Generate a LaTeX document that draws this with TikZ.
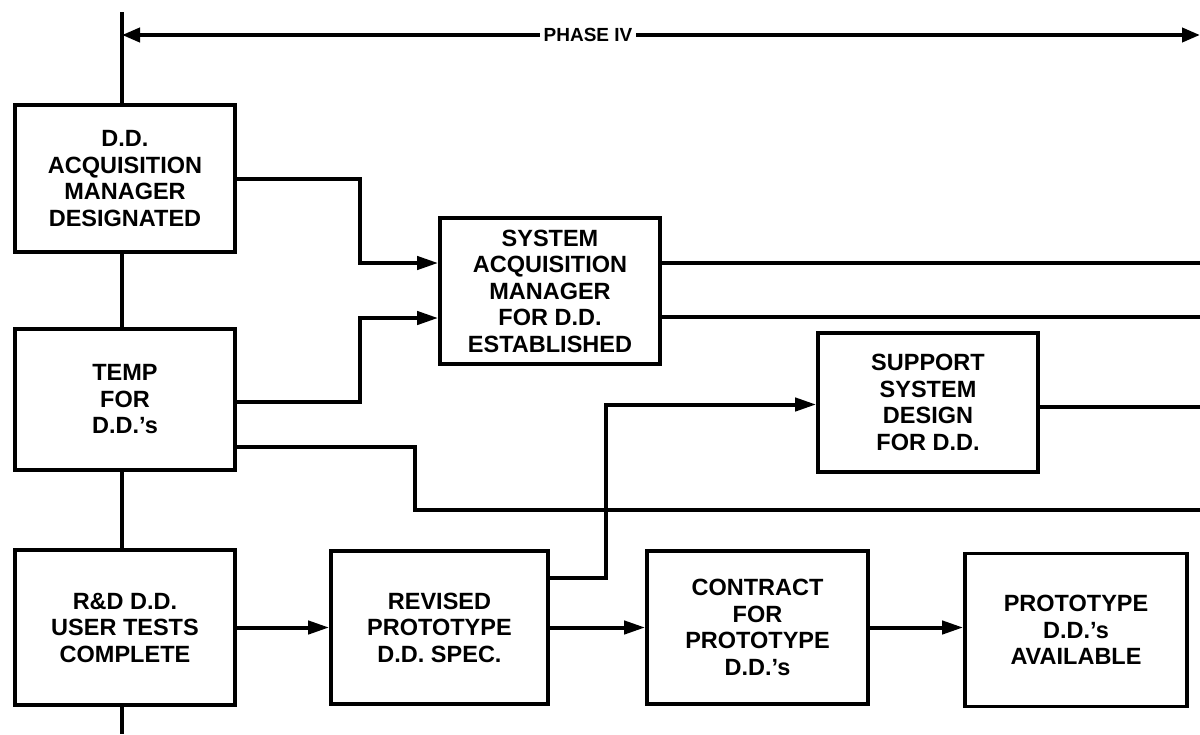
\documentclass[tikz,border=0pt]{standalone}
\usepackage{fontspec}
\setmainfont{Liberation Sans}
\usetikzlibrary{arrows.meta,calc}
\begin{document}
\begin{tikzpicture}[x=1pt,y=-1pt,
  box/.style={draw,line width=3.6pt,align=center,inner sep=0pt,
    font=\fontsize{23.5}{26.5}\selectfont\bfseries},
  conn/.style={line width=4pt},
  arr/.style={conn,-{Triangle[length=21pt,width=13pt]}},
  phase/.style={conn,{Triangle[length=18pt,width=14pt]}-{Triangle[length=18pt,width=14pt]}}]
\useasboundingbox (0,0) rectangle (1200,734);
% boxes
\node[box,minimum width=220pt,minimum height=147pt] (b1) at (125,178.5) {D.D.\\ACQUISITION\\MANAGER\\DESIGNATED};
\node[box,minimum width=220pt,minimum height=141pt] (b2) at (125,399.5) {TEMP\\FOR\\D.D.’s};
\node[box,minimum width=220pt,minimum height=155pt] (b3) at (125,627.5) {R\&D D.D.\\USER TESTS\\COMPLETE};
\node[box,minimum width=220pt,minimum height=146pt] (sam) at (550,291) {SYSTEM\\ACQUISITION\\MANAGER\\FOR D.D.\\ESTABLISHED};
\node[box,minimum width=220pt,minimum height=139pt] (sup) at (928,402.5) {SUPPORT\\SYSTEM\\DESIGN\\FOR D.D.};
\node[box,minimum width=217pt,minimum height=153pt] (rev) at (439.5,627.5) {REVISED\\PROTOTYPE\\D.D. SPEC.};
\node[box,minimum width=221pt,minimum height=153pt] (con) at (757.5,627.5) {CONTRACT\\FOR\\PROTOTYPE\\D.D.’s};
\node[box,minimum width=222pt,minimum height=153pt] (pro) at (1076,630) {PROTOTYPE\\D.D.’s\\AVAILABLE};
% vertical time line
\coordinate (top) at (122,12);
\coordinate (bot) at (122,734);
\draw[conn] (top) -- (top |- b1.north);
\draw[conn] (top |- b1.south) -- (top |- b2.north);
\draw[conn] (top |- b2.south) -- (top |- b3.north);
\draw[conn] (top |- b3.south) -- (bot);
% phase arrow
\coordinate (pl) at (122,35);
\coordinate (pr) at (1200,35);
\draw[phase] (pl) -- (pr);
\node[fill=white,inner sep=4pt,font=\fontsize{19}{22}\selectfont\bfseries] (ph) at (588,35) {PHASE IV};
% connectors
\draw[arr] (b1.east) -- ++(123,0) |- ($(sam.west)+(0,-28)$);
\draw[arr] ($(b2.east)+(0,2.5)$) -- ++(123,0) |- ($(sam.west)+(0,27)$);
\draw[conn] ($(sam.east)+(0,-28)$) -- ++(545,0);
\draw[conn] ($(sam.east)+(0,26)$) -- ++(545,0);
\draw[conn] ($(sup.east)+(0,4)$) -- ++(170,0);
\draw[conn] ($(b2.east)+(0,47.5)$) -- ++(178,0) -- ++(0,63) -- ++(790,0);
\draw[arr] ($(rev.east)+(0,-50)$) -- ++(56.5,0) |- ($(sup.west)+(0,2)$);
\draw[arr] (b3.east) -- (b3.east -| rev.west);
\draw[arr] (rev.east) -- (rev.east -| con.west);
\draw[arr] (con.east) -- (con.east -| pro.west);
\end{tikzpicture}
\end{document}
